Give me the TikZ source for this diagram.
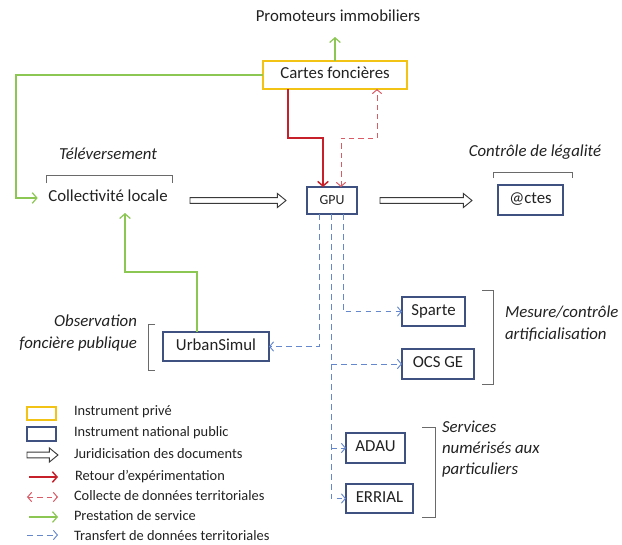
\documentclass[tikz,border=0pt]{standalone}
\usepackage{fontspec}
\setmainfont{Carlito}
\usetikzlibrary{arrows.meta,calc}
\definecolor{cyel}{HTML}{F2C314}
\definecolor{cblue}{HTML}{3E5180}
\definecolor{cred}{HTML}{C8202A}
\definecolor{cpink}{HTML}{DA5A66}
\definecolor{cgreen}{HTML}{8CC653}
\definecolor{cdash}{HTML}{6587CC}
\definecolor{cgray}{HTML}{3A3A3A}
\definecolor{cbrk}{HTML}{6A6A6A}
\definecolor{txtc}{HTML}{222222}
\newcommand\mainf{\fontsize{12.6}{16.5}\selectfont}
\newcommand\gpuf{\fontsize{10.4}{12}\selectfont}
\newcommand\legf{\fontsize{10.8}{13}\selectfont}
\newcommand\hollowarr[3][]{%
  \draw[hollow,#1] let \p1=(#2), \p2=(#3) in
  (\x1,\y1+2.1pt) -- (\x2-6.5pt,\y1+2.1pt) -- (\x2-6.5pt,\y1+5.3pt) -- (\x2,\y1)
  -- (\x2-6.5pt,\y1-5.3pt) -- (\x2-6.5pt,\y1-2.1pt) -- (\x1,\y1-2.1pt) -- cycle;}
\begin{document}
\begin{tikzpicture}[x=0.75pt,y=-0.75pt,
  every node/.style={inner sep=0pt, outer sep=0pt, text=txtc},
  txt/.style={font=\mainf, text height=0.68em, text depth=0.12em},
  itx/.style={font=\mainf\itshape, text height=0.68em, text depth=0.12em},
  box/.style={draw=cblue, line width=1pt, fill=white, font=\mainf, text height=0.68em, text depth=0.12em},
  pbox/.style={box, draw=cyel},
  legt/.style={font=\legf, anchor=west, text height=0.68em, text depth=0.12em},
  garrow/.style={draw=cgreen, line width=0.9pt, -{Straight Barb[length=3.5pt,width=8pt]}},
  rarrow/.style={draw=cred, line width=1.1pt, -{Straight Barb[length=3.5pt,width=8pt]}},
  pdash/.style={draw=cpink, line width=0.75pt, dash pattern=on 4pt off 3pt,
     {Straight Barb[length=3pt,width=7pt]}-{Straight Barb[length=3pt,width=7pt]}},
  bdash/.style={draw=cdash, line width=0.7pt, dash pattern=on 4.2pt off 3.3pt,
     -{Straight Barb[length=3pt,width=7pt]}},
  hollow/.style={draw=cgray, line width=0.7pt, fill=white},
  brk/.style={draw=cbrk, line width=0.6pt}
]
\fill[white] (0,0) rectangle (622,544);
\useasboundingbox (0,0) rectangle (622,544);

% nodes
\node[txt] (promo) at (338,18) {Promoteurs immobiliers};
\node[pbox, minimum width=108pt, minimum height=21pt] (cartes) at (335,75) {Cartes foncières};
\node[txt] (coll) at (108,198) {Collectivité locale};
\node[itx] (tele) at (108,156) {Téléversement};
\node[box, font=\gpuf, minimum width=37.5pt, minimum height=20.25pt] (gpu) at (332,200.5) {GPU};
\node[box, minimum width=48.75pt, minimum height=22.5pt] (actes) at (530.5,200) {@ctes};
\node[itx] (ctrl) at (535,153) {Contrôle de légalité};
\node[box, minimum width=47.25pt, minimum height=21.75pt] (sparte) at (433.5,311.5) {Sparte};
\node[box, minimum width=54pt, minimum height=22.5pt] (ocs) at (438,364) {OCS GE};
\node[box, minimum width=79.5pt, minimum height=21.75pt] (urban) at (216,346.5) {UrbanSimul};
\node[box, minimum width=44.25pt, minimum height=22.5pt] (adau) at (375.5,448) {ADAU};
\node[box, minimum width=50.25pt, minimum height=21.75pt] (errial) at (379.5,498.5) {ERRIAL};
\node[itx, align=right, anchor=east] (obs) at (137,345) {Observation\\foncière publique};
\node[itx, align=left, anchor=west] (mes) at (505,336) {Mesure/contrôle\\artificialisation};
\node[itx, align=left, anchor=west, font=\fontsize{12.6}{15.75}\selectfont\itshape] (serv) at (442,471) {Services\\numérisés aux\\particuliers};

% brackets
\draw[brk] (46,183) -- (46,175) -- (172,175) -- (172,183);
\draw[brk] (493,178) -- (493,172) -- (572,172) -- (572,178);
\draw[brk] (155,324) -- (148,324) -- (148,370) -- (155,370);
\draw[brk] (482,290) -- (493,290) -- (493,384) -- (482,384);
\draw[brk] (422,427) -- (435,427) -- (435,517) -- (422,517);

% connectors
\coordinate (promotip) at (335,37);
\coordinate (collin) at (125,213);
\draw[garrow] (cartes.north) -- (promotip);
\draw[garrow] (cartes.west) -- (16,75) |- ([xshift=-8pt]coll.west);
\draw[garrow] ($(urban.north)+(-19,0)$) -- ++(0,-60) -| (collin);
\draw[rarrow] ($(cartes.south)+(-47,0)$) -- ++(0,49) -| ($(gpu.north)+(-9,0)$);
\draw[pdash] ($(gpu.north)+(9,0)$) -- ++(0,-49) -| ($(cartes.south)+(42,0)$);

\coordinate (gl) at ($(gpu.south)+(-13,0)$);
\coordinate (gm) at ($(gpu.south)+(-1,0)$);
\coordinate (gr) at ($(gpu.south)+(11,0)$);
\draw[bdash] (gl) |- (urban.east);
\draw[bdash] (gr) |- (sparte.west);
\draw[bdash] (gm) |- (errial.west);
\draw[bdash] (gm |- ocs.west) -- (ocs.west);
\draw[bdash] (gm |- adau.west) -- (adau.west);

\hollowarr{$(gpu.west)+(-117,0)$}{$(gpu.west)+(-21,0)$}
\hollowarr{$(gpu.east)+(23,0)$}{$(actes.west)+(-26,0)$}

% legend
\draw[draw=cyel, line width=1pt] (27,407) rectangle (56,420);
\draw[draw=cblue, line width=1pt] (27,427) rectangle (56,441);
\coordinate (la1) at (27,455); \coordinate (lb1) at (58,455);
\coordinate (la2) at (29,477); \coordinate (lb2) at (58,477);
\coordinate (la3) at (27,497); \coordinate (lb3) at (58,497);
\coordinate (la4) at (29,517); \coordinate (lb4) at (58,517);
\coordinate (la5) at (27,535); \coordinate (lb5) at (58,535);
\hollowarr{la1}{lb1}
\draw[rarrow] (la2) -- (lb2);
\draw[pdash] (la3) -- (lb3);
\draw[garrow] (la4) -- (lb4);
\draw[bdash] (la5) -- (lb5);
\node[legt] at (74,412) {Instrument privé};
\node[legt] at (74,433) {Instrument national public};
\node[legt] at (74,455) {Juridicisation des documents};
\node[legt] at (75,477) {Retour d’expérimentation};
\node[legt] at (74,497) {Collecte de données territoriales};
\node[legt] at (74,517) {Prestation de service};
\node[legt] at (74,537) {Transfert de données territoriales};
\end{tikzpicture}
\end{document}
